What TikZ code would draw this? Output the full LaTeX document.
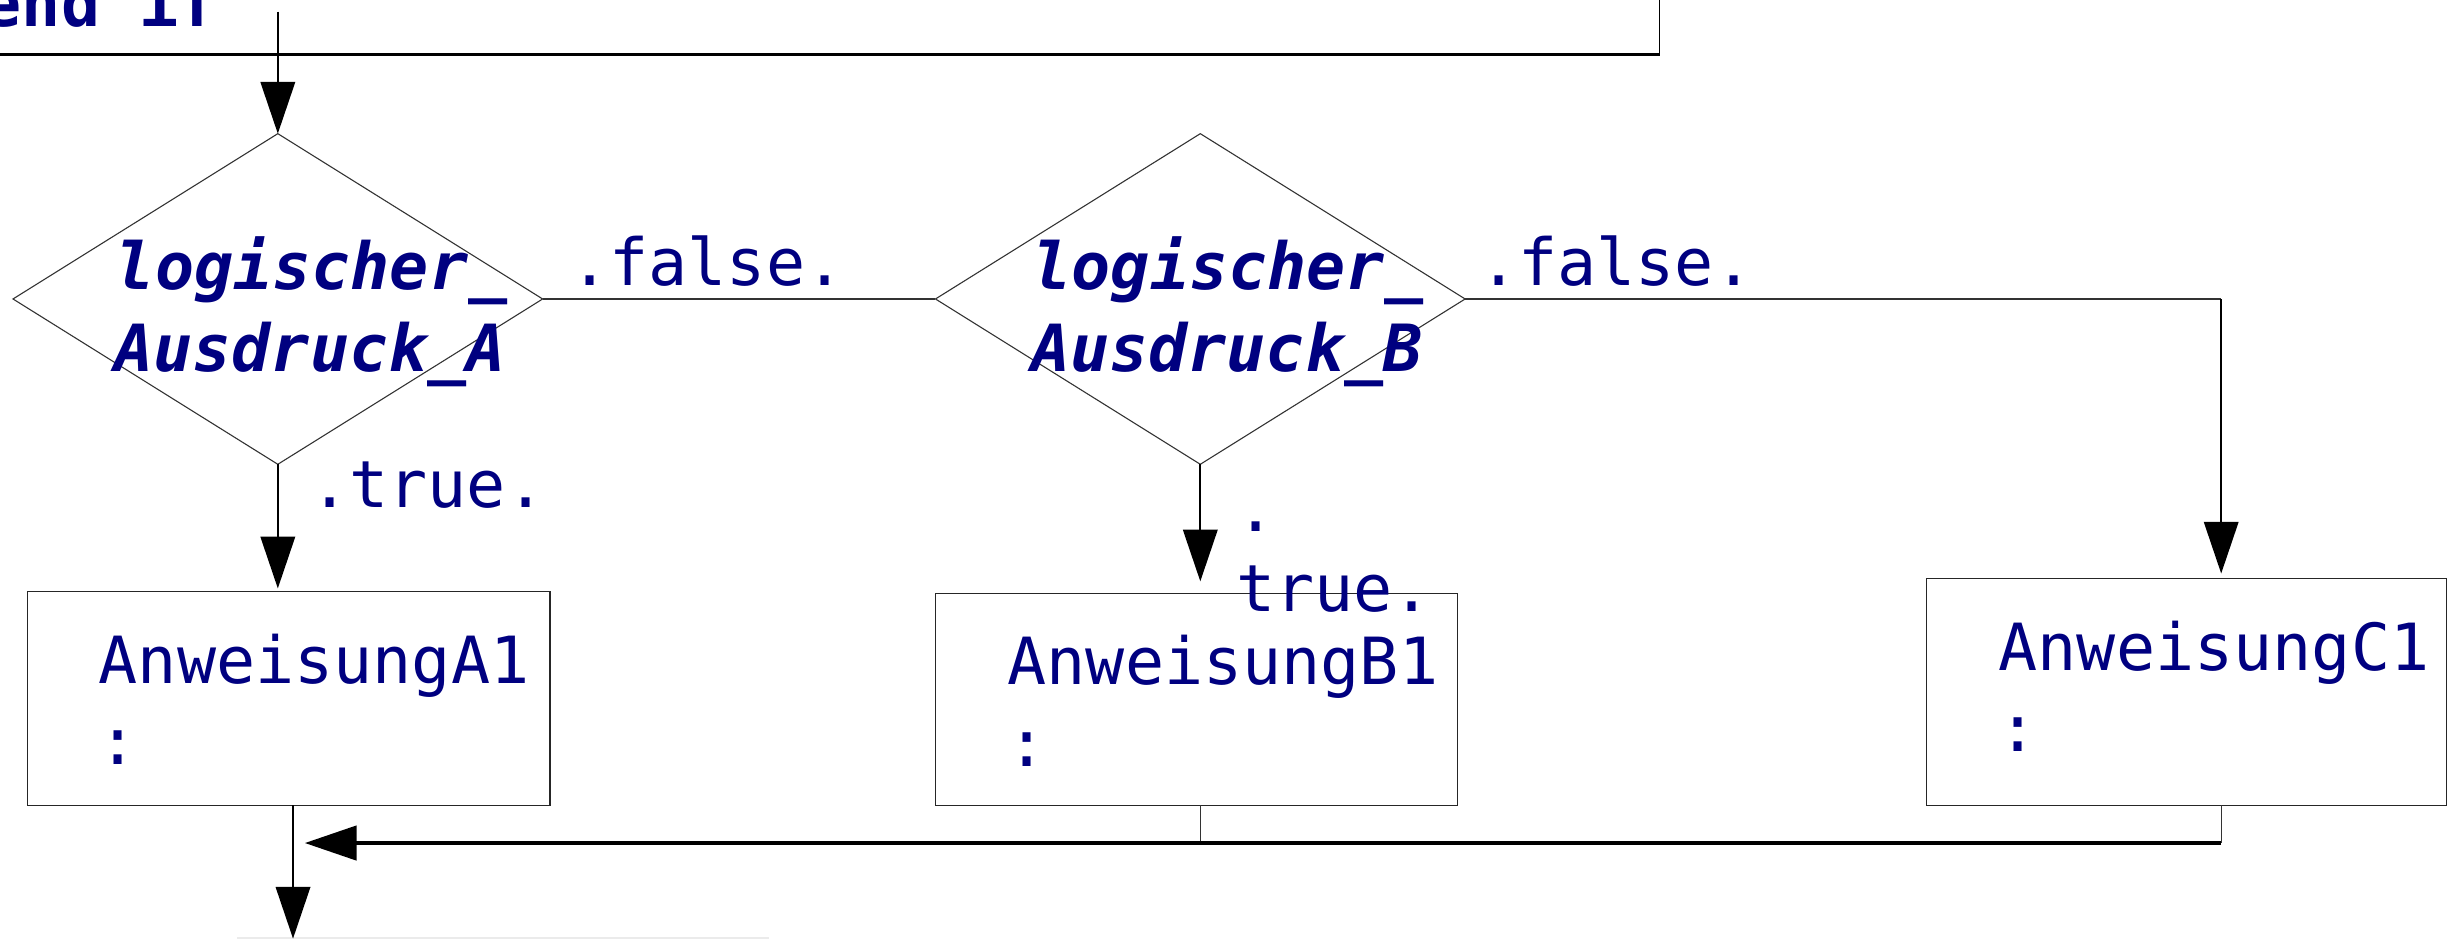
\documentclass[tikz,border=0pt]{standalone}
\usepackage{fontspec}
\usetikzlibrary{arrows.meta,shapes.geometric}
\newfontfamily\dmono[BoldFont={DejaVu Sans Mono Bold},ItalicFont={DejaVu Sans Mono Oblique},BoldItalicFont={DejaVu Sans Mono Bold Oblique}]{DejaVu Sans Mono}
\definecolor{navy}{RGB}{0,0,128}
\begin{document}
\begin{tikzpicture}[x=1pt,y=-1pt,
  txt/.style={anchor=base west, inner sep=0pt, outer sep=0pt, text=navy, font=\dmono\fontsize{41.5}{52}\selectfont},
  btxt/.style={txt, font=\dmono\bfseries\fontsize{41.5}{52}\selectfont},
  bitxt/.style={txt, font=\dmono\bfseries\itshape\fontsize{41.5}{52}\selectfont},
  dec/.style={diamond, draw=black!80, line width=0.7pt, minimum width=338pt, minimum height=211pt, inner sep=0pt, outer sep=0pt},
  box/.style={rectangle, draw=black!85, line width=0.7pt, anchor=north west, inner sep=0pt, outer sep=0pt},
  flow/.style={line width=1.3pt, -{Triangle[length=33pt,width=22pt]}},
  thinline/.style={line width=0.7pt, draw=black!80},
]
\useasboundingbox (0,0) rectangle (1568,599);
\clip (0,0) rectangle (1568,599);

% top (partially visible) block
\node[box, line width=1pt, draw=black, minimum width=1100pt, minimum height=80pt, anchor=south east] (topbox) at (1059,35) {};
\draw[line width=2pt] (topbox.south west) -- (topbox.south east);
\node[btxt] (endif) at (-11,16.6) {end if};

% decisions
\node[dec] (dA) at (177.3,190.8) {};
\node[dec] (dB) at (766,190.8) {};
\node[bitxt] (tA1) at (74,185) {logischer\_};
\node[bitxt] (tA2) at (73,237) {Ausdruck\_A};
\node[bitxt] (tB1) at (659,185) {logischer\_};
\node[bitxt] (tB2) at (658,237) {Ausdruck\_B};

% statement boxes
\node[box, minimum width=333.5pt, minimum height=136.3pt] (A1) at (17.5,377.7) {};
\node[box, minimum width=333pt, minimum height=135.4pt] (B1) at (597,378.6) {};
\node[box, minimum width=332pt, minimum height=145pt] (C1) at (1229.5,369) {};
\node[txt] (A1a) at (63,436) {AnweisungA1};
\node[txt] (A1b) at (63,488) {:};
\node[txt] (B1a) at (643,437) {AnweisungB1};
\node[txt] (B1b) at (643,489) {:};
\node[txt] (C1a) at (1275.5,427.6) {AnweisungC1};
\node[txt] (C1b) at (1275.5,479.6) {:};

% next (barely visible) block
\node[box, draw=black!8, line width=1pt, minimum width=338pt, minimum height=60pt] (nextbox) at (152,598.5) {};

% labels
\node[txt] (fA) at (364,182) {.false.};
\node[txt] (fB) at (944,182) {.false.};
\node[txt] (trA) at (198,324) {.true.};
\node[txt] (trB1) at (789,339) {.};
\node[txt] (trB2) at (789,390) {true.};

% coordinates
\coordinate (s0) at (177.3,7.5);
\coordinate (inA) at (177.3,375.5);
\coordinate (inB) at (766,371);
\coordinate (cC) at (1417.5,190.8);
\coordinate (inC) at (1417.5,366);
\coordinate (mC) at (1417.5,538);
\coordinate (mB) at (766,538);
\coordinate (mA) at (194.6,538);
\coordinate (outA) at (187,599);

% connectors
\draw[flow] (s0) -- (dA.north);
\draw[thinline] (dA.east) -- (dB.west);
\draw[thinline] (dB.east) -- (cC);
\draw[flow] (cC) -- (inC);
\draw[flow] (dA.south) -- (inA);
\draw[flow] (dB.south) -- (inB);
\draw[thinline] (C1.south -| mC) -- (mC);
\draw[thinline] (B1.south -| mB) -- (mB);
\draw[line width=2pt, -{Triangle[length=33pt,width=22pt]}] (mC) -- (mA);
\draw[flow] (A1.south -| outA) -- (outA);
\end{tikzpicture}
\end{document}
